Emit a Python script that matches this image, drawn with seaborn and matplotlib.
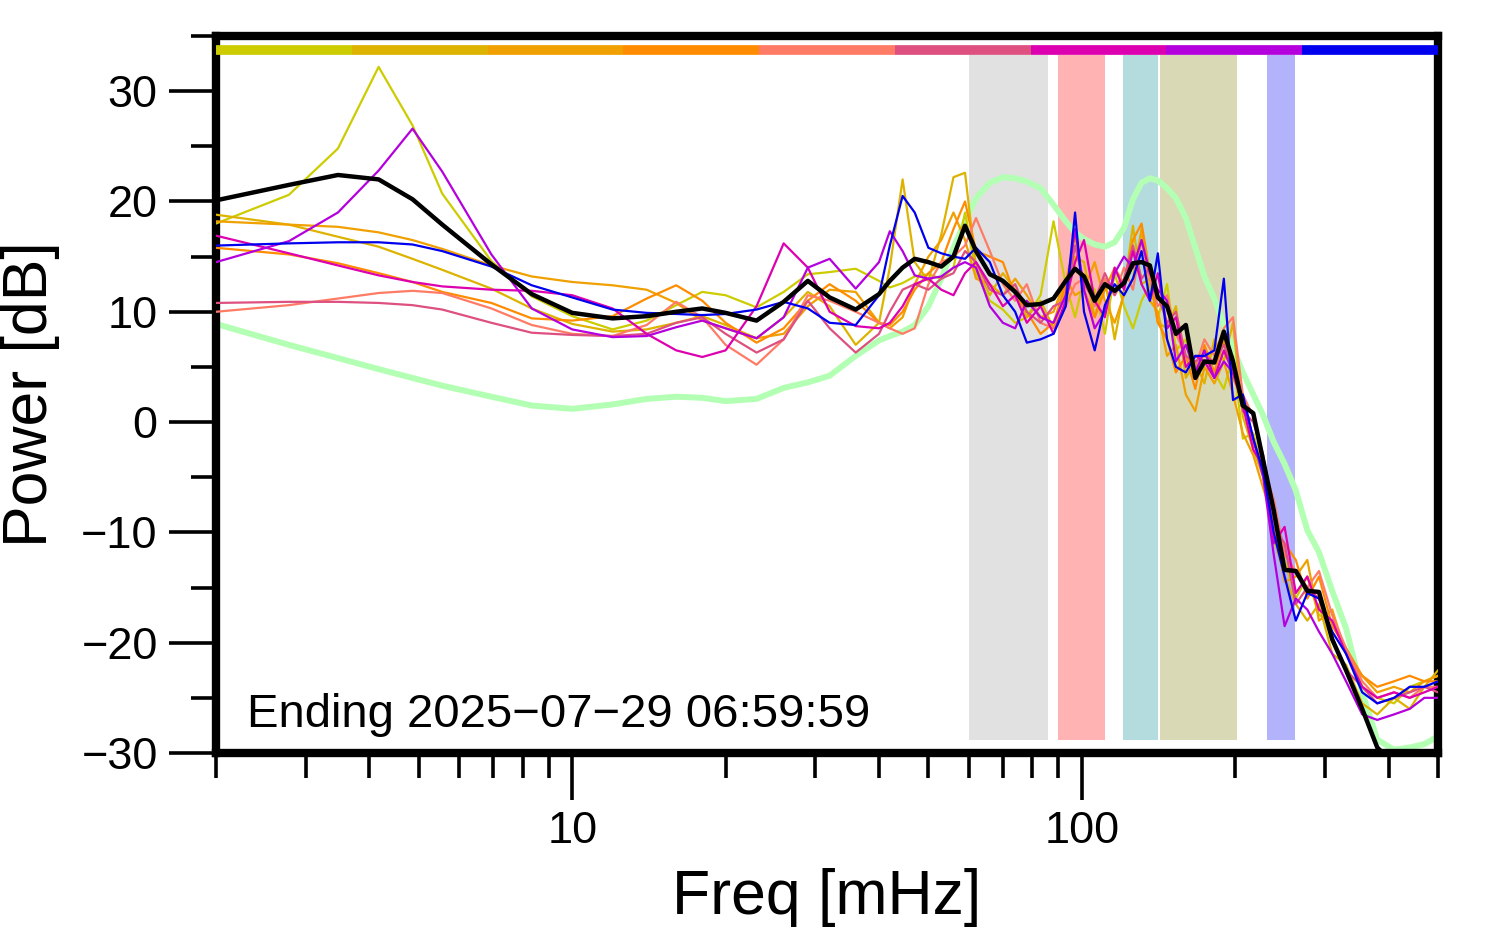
import pandas as pd
import matplotlib
matplotlib.use("Agg")
import matplotlib.pyplot as plt
import seaborn as sns
from matplotlib.ticker import FixedLocator, NullFormatter, MultipleLocator, FixedFormatter

# ---------------- data ----------------
freq = [2.0, 2.78, 3.47, 4.17, 4.86, 5.56, 6.94, 8.33, 10, 12, 14, 16, 18, 20, 23, 26, 29, 32, 36,
        40, 42, 44.5, 47, 50, 53, 56, 59, 62, 66, 70, 74, 78, 83, 88, 93, 97, 101, 106, 111, 116,
        121, 126, 131, 136, 141, 147, 153, 160, 167, 174, 182, 190, 198, 207, 217, 227, 238, 250,
        263, 277, 292, 310, 330, 355, 380, 410, 440, 470, 500]

p_yellow = [18.0, 20.6, 24.8, 32.2, 26.9, 20.7, 14.6, 11.4, 9.6, 8.4, 9.2, 10.6, 11.8, 11.5, 10.4, 11.8, 13.4, 13.6, 13.9,
            12.8, 12.2, 12.6, 13.2, 13.4, 13.0, 14.0, 19.0, 13.5, 11.0, 10.2, 9.0, 9.5, 11.5, 18.2, 12.5, 9.5, 13.0, 12.0, 8.0, 13.5,
            10.5, 8.5, 11.0, 12.5, 9.5, 12.5, 6.5, 7.5, 4.0, 6.5, 4.5, 3.0, 6.0, -1.5, -1.0, -4.5, -8.5, -12.5,
            -16.0, -14.0, -17.5, -18.0, -20.5, -24.0, -25.0, -25.5, -24.0, -23.5, -23.0]
p_gold = [18.8, 17.9, 16.8, 15.9, 14.8, 13.8, 12.1, 10.3, 8.9, 8.2, 8.4, 9.0, 9.6, 8.8, 7.6, 9.5, 11.8, 10.5, 7.0,
          9.0, 14.0, 22.0, 14.5, 12.8, 17.0, 22.2, 22.6, 14.0, 11.5, 13.5, 12.0, 9.5, 11.0, 8.5, 12.0, 15.0, 14.5, 9.5, 13.0, 7.5,
          12.0, 17.8, 12.5, 13.0, 9.0, 8.5, 10.5, 4.0, 5.5, 3.5, 7.5, 5.5, 9.0, 0.5, -2.5, -5.0, -10.5, -14.0,
          -16.5, -18.0, -16.5, -21.0, -22.0, -25.5, -26.5, -25.0, -26.0, -24.0, -22.5]
p_orange = [18.2, 17.9, 17.7, 17.2, 16.5, 15.7, 14.2, 13.2, 12.7, 12.4, 12.0, 10.8, 9.2, 8.5, 7.6, 8.0, 10.5, 12.0, 11.8,
            9.0, 8.5, 9.5, 12.5, 15.0, 16.5, 19.0, 16.5, 13.0, 12.5, 11.5, 13.0, 11.5, 9.5, 10.0, 13.0, 11.5, 12.0, 14.5, 11.0, 9.0,
            11.5, 13.0, 17.5, 11.0, 10.0, 6.0, 7.0, 2.5, 1.0, 5.0, 3.5, 5.5, 2.5, -1.0, -3.0, -6.0, -9.0, -14.5,
            -14.0, -12.5, -18.0, -17.0, -21.0, -23.0, -24.5, -24.0, -24.5, -23.5, -23.0]
p_darkorange = [15.8, 15.2, 14.4, 13.5, 12.7, 11.8, 10.8, 9.4, 9.2, 9.6, 11.2, 12.4, 11.0, 9.0, 7.2, 8.5, 11.0, 12.5, 11.0,
                9.0, 8.8, 10.0, 12.0, 13.5, 14.5, 17.5, 20.0, 15.5, 15.0, 14.5, 11.5, 10.0, 8.0, 9.0, 12.5, 17.0, 12.0, 9.5, 12.0, 14.0,
                12.5, 16.5, 18.0, 13.5, 9.0, 7.5, 4.5, 6.0, 3.0, 7.0, 4.5, 7.5, 4.0, 2.0, -2.0, -3.5, -10.0, -11.0,
                -12.5, -16.0, -14.0, -18.5, -20.5, -23.0, -24.0, -23.5, -23.0, -23.5, -23.5]
p_salmon = [10.0, 10.6, 11.2, 11.7, 11.9, 11.7, 10.3, 8.8, 8.0, 7.8, 8.8, 10.9, 9.5, 7.0, 5.2, 7.5, 11.5, 11.0, 10.0,
            9.0, 8.5, 8.0, 8.5, 12.5, 14.5, 15.0, 16.0, 18.5, 15.5, 12.5, 11.0, 12.5, 9.0, 8.5, 10.5, 12.5, 13.0, 10.5, 13.0, 11.5,
            14.0, 12.0, 16.5, 13.0, 10.5, 11.5, 8.0, 6.0, 5.0, 7.5, 6.0, 8.5, 9.5, 2.5, 0.5, -4.0, -7.0, -12.0,
            -13.5, -15.0, -13.5, -17.5, -20.5, -23.5, -25.0, -24.5, -25.0, -24.0, -24.0]
p_rose = [10.8, 10.9, 10.9, 10.8, 10.6, 10.2, 9.0, 8.1, 7.9, 7.8, 8.0, 9.0, 9.5, 8.0, 6.3, 7.5, 11.0, 8.5, 6.3,
          8.0, 10.0, 12.0, 12.5, 12.0, 13.0, 13.5, 15.5, 14.5, 12.0, 11.5, 12.5, 10.0, 9.0, 10.5, 11.0, 16.0, 12.5, 11.0, 13.5, 11.5,
          13.0, 16.0, 13.0, 14.0, 11.5, 9.0, 10.0, 6.0, 5.5, 6.0, 5.5, 7.0, 5.0, 1.0, 0.0, -3.0, -9.5, -11.0,
          -16.5, -15.0, -16.0, -19.5, -22.5, -24.0, -25.5, -25.0, -24.5, -24.0, -24.5]
p_magenta = [16.9, 15.3, 14.2, 13.3, 12.7, 12.3, 12.0, 11.9, 11.5, 10.3, 8.0, 6.5, 5.9, 6.5, 10.5, 16.2, 14.0, 10.0, 8.7,
             8.5, 9.0, 10.5, 12.5, 13.0, 12.0, 11.5, 13.5, 14.5, 12.5, 10.5, 11.5, 9.0, 10.5, 8.0, 11.0, 14.5, 16.5, 11.0, 9.5, 14.0,
             12.0, 15.5, 12.5, 11.0, 13.5, 8.5, 9.5, 5.0, 6.0, 5.5, 4.0, 6.5, 4.5, 1.5, -2.5, -4.0, -11.0, -9.5,
             -15.5, -14.0, -17.0, -18.0, -21.0, -24.0, -25.0, -24.5, -25.0, -24.5, -24.0]
p_purple = [14.5, 16.4, 19.0, 22.8, 26.6, 22.7, 15.2, 10.3, 8.4, 7.7, 7.8, 8.6, 9.2, 8.5, 7.6, 9.5, 14.0, 14.8, 12.1,
            14.5, 17.3, 15.5, 13.3, 13.0, 13.2, 14.0, 14.5, 14.0, 10.5, 9.0, 8.5, 11.0, 9.5, 9.0, 11.5, 17.5, 12.0, 8.5, 10.0, 13.5,
            15.0, 14.0, 16.5, 13.5, 12.0, 11.0, 5.5, 7.0, 4.5, 6.5, 4.0, 5.5, 4.5, 2.0, -1.5, -5.0, -12.0, -18.5,
            -16.0, -17.0, -19.0, -21.0, -23.5, -26.5, -27.0, -26.5, -26.0, -25.0, -25.0]
p_blue = [16.0, 16.2, 16.3, 16.3, 16.1, 15.5, 14.1, 12.4, 11.3, 10.2, 9.9, 9.8, 9.7, 9.8, 10.2, 10.9, 10.3, 9.0, 8.8,
          11.5, 16.0, 20.5, 19.0, 15.8, 15.3, 15.0, 14.8, 15.8, 14.5, 11.5, 10.0, 7.2, 7.5, 8.0, 10.5, 19.0, 10.0, 6.5, 10.6, 12.5,
          11.5, 13.0, 15.5, 11.0, 15.3, 7.5, 5.0, 4.5, 6.0, 6.0, 6.5, 13.0, 2.0, 2.5, -1.5, -4.5, -10.0, -14.0,
          -18.0, -15.5, -16.0, -19.0, -21.0, -24.5, -25.5, -25.0, -24.0, -24.0, -23.5]
p_mean = [20.1, 21.5, 22.4, 22.0, 20.2, 17.9, 14.3, 11.6, 9.9, 9.4, 9.6, 10.0, 10.3, 9.9, 9.2, 10.9, 12.8, 11.3, 10.2,
          11.6, 12.8, 14.0, 14.8, 14.5, 14.1, 15.0, 17.8, 15.5, 13.4, 12.8, 11.8, 10.6, 10.7, 11.2, 12.8, 13.9, 13.2, 11.0, 12.5, 11.9,
          12.6, 14.4, 14.5, 14.2, 11.3, 10.5, 8.0, 8.8, 4.0, 5.5, 5.4, 8.2, 5.5, 1.5, 0.8, -3.5, -8.0, -13.4,
          -13.5, -15.3, -15.4, -19.7, -22.5, -26.0, -29.5, -31.0, -32.0, -32.0, -32.0]
p_reference = [8.9, 7.0, 5.8, 4.8, 4.0, 3.3, 2.3, 1.5, 1.2, 1.6, 2.1, 2.3, 2.2, 1.9, 2.1, 3.1, 3.6, 4.2, 6.0,
               7.4, 7.8, 8.2, 8.8, 10.5, 13.0, 15.8, 18.2, 20.3, 21.7, 22.2, 22.1, 21.8, 21.2, 19.7, 18.2, 17.2, 16.6, 16.1, 15.9, 16.3,
               17.6, 20.2, 21.7, 22.1, 21.9, 21.2, 20.3, 18.5, 15.8, 13.2, 11.2, 8.8, 6.7, 4.5, 2.5, 0.6, -1.8, -3.8,
               -6.2, -9.8, -11.8, -15.3, -18.7, -24.5, -28.8, -29.7, -29.5, -29.2, -28.5]

traces = ['yellow', 'gold', 'orange', 'darkorange', 'salmon', 'rose', 'magenta', 'purple', 'blue']
trace_colors = ['#cccc00', '#ddb300', '#f0a000', '#ff8c00', '#ff7b66', '#dd5080', '#dd00b0', '#b400dd', '#0000ee']
trace_values = [p_yellow, p_gold, p_orange, p_darkorange, p_salmon, p_rose, p_magenta, p_purple, p_blue]

band_lo = [60, 90, 120.4, 142.2, 231]
band_hi = [85.7, 110.9, 140.9, 201.6, 262]
band_colors = ['#e1e1e1', '#ffb3b3', '#b4dcdf', '#d9dab5', '#b3b3fb']
band_bottom, band_top = -28.8, 33.25

title_text = 'Ending 2025\u221207\u221229 06:59:59'

# ---------------- build long table ----------------
rows = []
for name, vals in zip(traces, trace_values):
    for f, p in zip(freq, vals):
        rows.append({'freq': f, 'power': p, 'trace': name})
df = pd.DataFrame(rows)

sns.set_style('ticks')
plt.rcParams['font.family'] = ['Liberation Sans', 'DejaVu Sans']
for key in ['text.color', 'axes.labelcolor', 'xtick.color', 'ytick.color', 'axes.edgecolor']:
    plt.rcParams[key] = 'black'

fig = plt.figure(figsize=(14.94, 9.52), dpi=100)
ax = fig.add_axes([216 / 1494, 1 - 753 / 952, 1222 / 1494, 717 / 952])
ax.set_xscale('log')
ax.set_xlim(2, 500)
ax.set_ylim(-30, 35)

# shaded bands
for lo, hi, c in zip(band_lo, band_hi, band_colors):
    ax.axvspan(lo, hi, ymin=(band_bottom + 30) / 65, ymax=(band_top + 30) / 65,
               color=c, lw=0, zorder=0)

sns.lineplot(x=freq, y=p_reference, color='#b3ffb3', linewidth=4.3, ax=ax, zorder=2)
sns.lineplot(data=df, x='freq', y='power', hue='trace', palette=dict(zip(traces, trace_colors)),
             sort=False, estimator=None, linewidth=1.6, legend=False, ax=ax, zorder=3)
sns.lineplot(x=freq, y=p_mean, color='black', linewidth=3.2, ax=ax, zorder=4)

# colour key along the top
for i, c in enumerate(trace_colors):
    ax.plot([i / 9, (i + 1) / 9], [33.7, 33.7], transform=ax.get_yaxis_transform(),
            color=c, lw=7, solid_capstyle='butt', zorder=5)

ax.text(2.3, -27.6, title_text, fontsize=34, va='baseline', ha='left')

# axes styling
for s in ax.spines.values():
    s.set_linewidth(6)
    s.set_color('black')
    s.set_visible(True)
ax.xaxis.set_major_locator(FixedLocator([10, 100]))
ax.xaxis.set_major_formatter(FixedFormatter(['10', '100']))
ax.xaxis.set_minor_locator(FixedLocator([2, 3, 4, 5, 6, 7, 8, 9, 20, 30, 40, 50, 60, 70, 80, 90,
                                         200, 300, 400, 500]))
ax.xaxis.set_minor_formatter(NullFormatter())
ax.yaxis.set_major_locator(MultipleLocator(10))
ax.yaxis.set_minor_locator(MultipleLocator(5))
ax.tick_params(which='major', direction='out', length=34, width=2.6, labelsize=32.5, pad=8,
               color='black', labelcolor='black')
ax.tick_params(which='minor', direction='out', length=18, width=2.6, color='black')

ax.set_xlabel('Freq [mHz]', fontsize=45, color='black')
ax.set_ylabel('Power [dB]', fontsize=45, color='black')
ax.xaxis.set_label_coords(0.5, -0.160)
ax.yaxis.set_label_coords(-0.128, 0.5)

fig.savefig('out.png', dpi=100)
